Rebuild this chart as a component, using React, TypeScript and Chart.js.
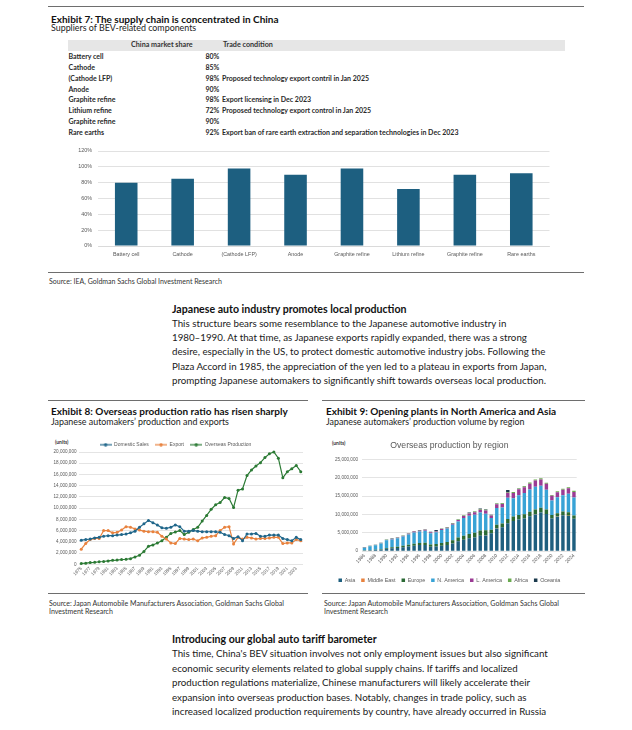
import React, { useEffect, useRef } from 'react';
import { Chart, registerables } from 'chart.js';

Chart.register(...registerables);
Chart.defaults.font.family = "'Liberation Sans', Arial, sans-serif";
Chart.defaults.color = '#595959';

// ---------- Exhibit 7 data ----------
const components = ['Battery cell', 'Cathode', '(Cathode LFP)', 'Anode', 'Graphite refine', 'Lithium refine', 'Graphite refine', 'Rare earths'];
const chinaShare = [80, 85, 98, 90, 98, 72, 90, 92];
const tradeCondition = [
  '',
  '',
  'Proposed technology export contril in Jan 2025',
  '',
  'Export licensing in Dec 2023',
  'Proposed technology export control in Jan 2025',
  '',
  'Export ban of rare earth extraction and separation technologies in Dec 2023',
];
const shareTicks = [0, 20, 40, 60, 80, 100, 120];

// ---------- Exhibit 8 data (million units) ----------
const years8 = Array.from({ length: 50 }, (_, i) => String(1975 + i));
const domesticSales = [4.3, 4.4, 4.5, 4.7, 4.8, 5.0, 5.1, 5.1, 5.2, 5.3, 5.4, 5.6, 5.9, 6.6, 7.2, 7.8, 7.4, 7.0, 6.5, 6.4, 6.6, 7.0, 6.7, 5.9, 5.9, 6.0, 5.9, 5.8, 5.8, 5.8, 5.8, 5.7, 5.3, 5.1, 4.6, 4.9, 4.2, 5.4, 5.4, 5.5, 5.0, 5.0, 5.2, 5.2, 5.2, 4.6, 4.4, 4.2, 4.8, 4.4];
const exportsJp = [2.7, 3.7, 4.4, 4.6, 4.6, 6.0, 6.0, 5.6, 5.7, 6.1, 6.7, 6.6, 6.3, 6.1, 5.9, 5.8, 5.8, 5.7, 5.0, 4.5, 3.8, 3.7, 4.6, 4.5, 4.4, 4.5, 4.2, 4.7, 4.8, 5.0, 5.1, 6.0, 6.6, 6.7, 3.6, 4.8, 4.5, 4.8, 4.7, 4.5, 4.6, 4.6, 4.7, 4.8, 4.8, 3.7, 3.8, 3.8, 4.4, 4.2];
const overseasProduction = [0.15, 0.2, 0.3, 0.35, 0.45, 0.5, 0.6, 0.7, 0.75, 0.85, 0.9, 1.0, 1.3, 1.6, 2.3, 3.2, 3.45, 3.8, 4.2, 4.8, 5.5, 5.75, 6.0, 5.3, 5.7, 6.2, 6.6, 7.7, 8.7, 9.8, 10.6, 11.0, 11.9, 11.7, 10.1, 13.2, 13.4, 15.8, 16.8, 17.5, 18.1, 19.0, 19.7, 20.0, 18.9, 15.4, 16.5, 17.0, 17.6, 16.5];

// ---------- Exhibit 9 data (million units) ----------
const years9 = Array.from({ length: 39 }, (_, i) => String(1986 + i));
const asia = [0.2, 0.25, 0.3, 0.4, 0.7, 0.8, 0.9, 1.1, 1.3, 1.5, 1.7, 1.7, 1.2, 1.3, 1.5, 1.7, 2.1, 2.7, 3.1, 3.5, 3.7, 4.2, 4.3, 4.9, 6.2, 6.5, 7.6, 8.2, 8.6, 8.9, 9.5, 10.0, 10.5, 10.1, 8.9, 9.4, 9.8, 9.6, 8.8];
const middleEast = [0, 0, 0, 0, 0, 0, 0, 0, 0, 0, 0, 0, 0, 0, 0, 0, 0, 0, 0, 0, 0, 0.01, 0.01, 0.01, 0.02, 0.02, 0.03, 0.03, 0.03, 0.03, 0.03, 0.03, 0.03, 0.03, 0.02, 0.02, 0.02, 0.02, 0.02];
const europe = [0.05, 0.05, 0.08, 0.1, 0.2, 0.25, 0.3, 0.4, 0.45, 0.5, 0.55, 0.6, 0.6, 0.65, 0.7, 0.8, 0.9, 1.0, 1.1, 1.2, 1.3, 1.4, 1.4, 0.9, 1.0, 1.0, 1.1, 1.2, 1.2, 1.1, 1.2, 1.3, 1.3, 1.2, 0.9, 0.9, 1.0, 1.0, 0.9];
const nAmerica = [0.72, 1.02, 1.21, 1.6, 2.07, 2.15, 2.35, 2.5, 2.8, 3.1, 3.09, 3.24, 3.09, 3.23, 3.57, 3.65, 4.2, 4.38, 4.85, 4.95, 4.9, 4.9, 4.5, 3.2, 4.55, 4.35, 5.85, 5.0, 5.4, 5.8, 6.05, 6.2, 6.0, 5.4, 3.95, 4.35, 4.4, 5.0, 4.9];
const lAmerica = [0.05, 0.05, 0.05, 0.06, 0.08, 0.1, 0.1, 0.15, 0.2, 0.25, 0.25, 0.3, 0.25, 0.2, 0.25, 0.25, 0.3, 0.4, 0.5, 0.6, 0.7, 0.8, 0.9, 0.7, 1.0, 1.0, 1.3, 1.4, 1.6, 1.6, 1.6, 1.7, 1.7, 1.6, 1.3, 1.4, 1.5, 1.5, 1.5];
const africa = [0.03, 0.03, 0.03, 0.04, 0.05, 0.05, 0.05, 0.05, 0.05, 0.05, 0.06, 0.06, 0.06, 0.07, 0.08, 0.1, 0.1, 0.12, 0.15, 0.15, 0.2, 0.2, 0.2, 0.15, 0.2, 0.2, 0.25, 0.25, 0.25, 0.25, 0.3, 0.3, 0.3, 0.3, 0.25, 0.25, 0.3, 0.3, 0.3];
const oceania = [0.1, 0.1, 0.1, 0.1, 0.1, 0.1, 0.1, 0.1, 0.1, 0.1, 0.1, 0.1, 0.1, 0.3, 0.1, 0.1, 0.1, 0.1, 0.1, 0.1, 0.1, 0.1, 0.1, 0.05, 0.05, 0.05, 0.5, 0.05, 0.05, 0.05, 0.05, 0, 0, 0, 0, 0, 0, 0, 0];
const regionNames = ['Asia', 'Middle East', 'Europe', 'N. America', 'L. America', 'Africa', 'Oceania'];
const regionValues = [asia, middleEast, europe, nAmerica, lAmerica, africa, oceania];
const regionColors = ['#1e5f7f', '#e8823e', '#2b6a35', '#38a3d6', '#9b3b94', '#6aaa4f', '#1b3a4d'];

const paraB = [
  'This structure bears some resemblance to the Japanese automotive industry in',
  '1980–1990. At that time, as Japanese exports rapidly expanded, there was a strong',
  'desire, especially in the US, to protect domestic automotive industry jobs. Following the',
  'Plaza Accord in 1985, the appreciation of the yen led to a plateau in exports from Japan,',
  'prompting Japanese automakers to significantly shift towards overseas local production.',
];
const paraD = [
  "This time, China's BEV situation involves not only employment issues but also significant",
  'economic security elements related to global supply chains. If tariffs and localized',
  'production regulations materialize, Chinese manufacturers will likely accelerate their',
  'expansion into overseas production bases. Notably, changes in trade policy, such as',
  'increased localized production requirements by country, have already occurred in Russia',
];

const TXT = "Lato, 'Noto Sans', sans-serif";
const GRID = '#d9d9d9';

function T(props: { x: number; b: number; s: number; w?: number; c?: string; ls?: number; children: React.ReactNode }) {
  const { x, b, s, w = 400, c = '#1a1a1a', ls = 0, children } = props;
  return (
    <div
      style={{
        position: 'absolute',
        left: x,
        top: b - 0.987 * s,
        fontSize: s,
        lineHeight: `${1.2 * s}px`,
        fontWeight: w,
        color: c,
        whiteSpace: 'nowrap',
        letterSpacing: ls,
        fontFamily: TXT,
      }}
    >
      {children}
    </div>
  );
}

function Rule({ x1, x2, y }: { x1: number; x2: number; y: number }) {
  return <div style={{ position: 'absolute', left: x1, top: y, width: x2 - x1, height: 1, background: '#6e6e6e' }} />;
}

const fixedLegendHeight = (h: number) => ({
  id: 'fixedLegendHeight',
  beforeLayout(chart: any) {
    const lg = chart.legend;
    if (lg && !lg.__patched) {
      const orig = lg.fit;
      lg.fit = function (this: any) {
        orig.call(this);
        this.height = h;
      };
      lg.__patched = true;
    }
  },
});

function ChartBox({ left, top, width, height, make }: { left: number; top: number; width: number; height: number; make: () => any }) {
  const ref = useRef<HTMLCanvasElement>(null);
  useEffect(() => {
    const chart = new Chart(ref.current as HTMLCanvasElement, make());
    return () => chart.destroy();
  }, []);
  return (
    <div style={{ position: 'absolute', left, top, width, height }}>
      <canvas ref={ref} width={width} height={height} style={{ width, height, display: 'block' }} />
    </div>
  );
}

function lineIcon(color: string) {
  const c = document.createElement('canvas');
  c.width = 12;
  c.height = 4;
  const ctx = c.getContext('2d') as CanvasRenderingContext2D;
  ctx.strokeStyle = color;
  ctx.lineWidth = 1.2;
  ctx.beginPath();
  ctx.moveTo(0, 2);
  ctx.lineTo(12, 2);
  ctx.stroke();
  ctx.fillStyle = color;
  ctx.beginPath();
  ctx.arc(6, 2, 1.7, 0, Math.PI * 2);
  ctx.fill();
  return c;
}

const make7 = () => ({
  type: 'bar',
  data: {
    labels: components,
    datasets: [{ data: chinaShare, backgroundColor: '#1d5f80', categoryPercentage: 1, barPercentage: 0.4 }],
  },
  options: {
    responsive: false,
    animation: false,
    events: [],
    layout: { padding: { top: 11, right: 10.5, left: 0, bottom: 0 } },
    plugins: { legend: { display: false }, tooltip: { enabled: false } },
    scales: {
      x: {
        grid: { display: false, drawTicks: false },
        border: { display: true, color: GRID, width: 0.8 },
        ticks: { font: { size: 5.4 }, color: '#595959', padding: 5, maxRotation: 0, autoSkip: false },
        afterFit: (s: any) => { s.height = 19; },
      },
      y: {
        min: 0,
        max: 120,
        afterBuildTicks: (s: any) => { s.ticks = shareTicks.map((v) => ({ value: v })); },
        ticks: { font: { size: 5.4 }, color: '#595959', padding: 6, callback: (v: any) => `${v}%` },
        grid: { color: GRID, lineWidth: 0.8, drawTicks: false },
        border: { display: false },
        afterFit: (s: any) => { s.width = 48; },
      },
    },
  },
});

const series8 = [
  { label: 'Domestic Sales', data: domesticSales, color: '#1f668a' },
  { label: 'Export', data: exportsJp, color: '#e8823e' },
  { label: 'Overseas Production', data: overseasProduction, color: '#2b7a34' },
];

const make8 = () => {
  const icons = series8.map((s) => lineIcon(s.color));
  return {
    type: 'line',
    data: {
      labels: years8,
      datasets: series8.map((s) => ({
        label: s.label,
        data: s.data,
        borderColor: s.color,
        backgroundColor: s.color,
        pointBackgroundColor: s.color,
        pointBorderWidth: 0,
        pointRadius: 1.5,
        borderWidth: 1.2,
        tension: 0,
        clip: false,
      })),
    },
    options: {
      responsive: false,
      animation: false,
      events: [],
      layout: { padding: { top: 0, right: 5, left: 0, bottom: 0 } },
      plugins: {
        tooltip: { enabled: false },
        legend: {
          position: 'top',
          labels: {
            usePointStyle: true,
            pointStyleWidth: 12,
            padding: 6.2,
            font: { size: 5 },
            color: '#595959',
            generateLabels: (chart: any) =>
              (Chart.defaults.plugins.legend.labels.generateLabels as any)(chart).map((l: any, i: number) => ({ ...l, pointStyle: icons[i] })),
          },
        },
      },
      scales: {
        x: {
          offset: true,
          grid: { display: false, drawTicks: false },
          border: { display: false },
          ticks: {
            autoSkip: false,
            maxRotation: 45,
            minRotation: 45,
            padding: 1.5,
            font: { size: 4.6 },
            callback: (_v: any, i: number) => (i % 2 === 0 ? years8[i] : ''),
          },
          afterFit: (s: any) => { s.height = 23.7; },
        },
        y: {
          min: 0,
          max: 20,
          ticks: { stepSize: 2, font: { size: 4.6 }, padding: 2.5, callback: (v: any) => (Number(v) * 1e6).toLocaleString('en-US') },
          grid: { color: GRID, lineWidth: 0.7, drawTicks: false },
          border: { display: false },
          afterFit: (s: any) => { s.width = 31; },
        },
      },
    },
    plugins: [fixedLegendHeight(16)],
  };
};

const make9 = () => ({
  type: 'bar',
  data: {
    labels: years9,
    datasets: regionNames.map((n, i) => ({
      label: n,
      data: regionValues[i],
      backgroundColor: regionColors[i],
      categoryPercentage: 1,
      barPercentage: 0.62,
    })),
  },
  options: {
    responsive: false,
    animation: false,
    events: [],
    layout: { padding: { top: 0, right: 8.3, left: 0, bottom: 0 } },
    plugins: {
      tooltip: { enabled: false },
      title: {
        display: true,
        text: 'Overseas production by region',
        font: { size: 8.7, weight: 'normal' },
        color: '#595959',
        padding: { top: 4.8, bottom: 8.1 },
      },
      legend: {
        position: 'bottom',
        labels: { boxWidth: 3.5, boxHeight: 3.5, padding: 6, font: { size: 5.4 }, color: '#595959' },
      },
    },
    scales: {
      x: {
        stacked: true,
        offset: true,
        grid: { display: false, drawTicks: false },
        border: { display: false },
        ticks: {
          autoSkip: false,
          maxRotation: 45,
          minRotation: 45,
          padding: 1.5,
          font: { size: 4.9 },
          callback: (_v: any, i: number) => (i % 2 === 0 ? years9[i] : ''),
        },
        afterFit: (s: any) => { s.height = 20.3; },
      },
      y: {
        stacked: true,
        min: 0,
        max: 25,
        ticks: { stepSize: 5, font: { size: 4.6 }, padding: 3.7, callback: (v: any) => (Number(v) * 1e6).toLocaleString('en-US') },
        grid: { color: GRID, lineWidth: 0.7, drawTicks: false },
        border: { display: false },
        afterFit: (s: any) => { s.width = 39.7; },
      },
    },
  },
  plugins: [fixedLegendHeight(12.5)],
});

export default function App() {
  const rowY = (i: number) => 59.2 + i * 10.75;
  return (
    <div style={{ position: 'absolute', left: 0, top: 0, width: 632, height: 730, background: '#fff', overflow: 'hidden' }}>
      {/* Exhibit 7 */}
      <Rule x1={48} x2={584} y={6} />
      <T x={51} b={22.5} s={10} w={700} c="#111">Exhibit 7: The supply chain is concentrated in China</T>
      <T x={51} b={32} s={8.9} c="#222">Suppliers of BEV-related components</T>
      <div style={{ position: 'absolute', left: 68, top: 39.5, width: 497, height: 11.5, background: '#e6e6e6' }} />
      <T x={131} b={48} s={7.2} w={700} c="#333">China market share</T>
      <T x={223} b={48} s={7.2} w={700} c="#333">Trade condition</T>
      {components.map((c, i) => (
        <React.Fragment key={i}>
          <T x={68.5} b={rowY(i)} s={7} w={700} c="#2a2a2a">{c}</T>
          <T x={205.5} b={rowY(i)} s={7} w={700} c="#2a2a2a">{`${chinaShare[i]}%`}</T>
          {tradeCondition[i] ? <T x={222} b={rowY(i)} s={7} w={700} c="#2a2a2a">{tradeCondition[i]}</T> : null}
        </React.Fragment>
      ))}
      <ChartBox left={50} top={140} width={510} height={125} make={make7} />
      <Rule x1={48} x2={584} y={272} />
      <T x={49} b={283.8} s={7} c="#333">Source: IEA, Goldman Sachs Global Investment Research</T>

      {/* Section text */}
      <T x={172} b={313.3} s={10.6} w={700} c="#111">Japanese auto industry promotes local production</T>
      {paraB.map((l, i) => (
        <T key={i} x={172} b={327.6 + i * 14.2} s={9.75}>{l}</T>
      ))}

      {/* Exhibit 8 */}
      <Rule x1={48} x2={308} y={400} />
      <T x={51} b={414.4} s={10} w={700} c="#111">Exhibit 8: Overseas production ratio has risen sharply</T>
      <T x={51} b={425.5} s={8.9} c="#222">Japanese automakers’ production and exports</T>
      <T x={55} b={444} s={5} w={700} c="#333">(units)</T>
      <ChartBox left={48} top={436} width={260} height={152} make={make8} />
      <Rule x1={48} x2={308} y={593} />
      <T x={49} b={605.8} s={7} c="#333">Source: Japan Automobile Manufacturers Association, Goldman Sachs Global</T>
      <T x={49} b={614.2} s={7} c="#333">Investment Research</T>

      {/* Exhibit 9 */}
      <Rule x1={322} x2={585} y={400} />
      <T x={326} b={414.4} s={10} w={700} c="#111">Exhibit 9: Opening plants in North America and Asia</T>
      <T x={326} b={425.5} s={8.9} c="#222">Japanese automakers’ production volume by region</T>
      <T x={332} b={445} s={5} w={700} c="#333">(units)</T>
      <ChartBox left={322} top={436} width={263} height={148} make={make9} />
      <Rule x1={322} x2={585} y={593} />
      <T x={324} b={605.8} s={7} c="#333">Source: Japan Automobile Manufacturers Association, Goldman Sachs Global</T>
      <T x={324} b={614.2} s={7} c="#333">Investment Research</T>

      {/* Section text */}
      <T x={172} b={643.8} s={10.6} w={700} c="#111">Introducing our global auto tariff barometer</T>
      {paraD.map((l, i) => (
        <T key={i} x={172} b={657.6 + i * 14.6} s={9.75}>{l}</T>
      ))}
    </div>
  );
}
